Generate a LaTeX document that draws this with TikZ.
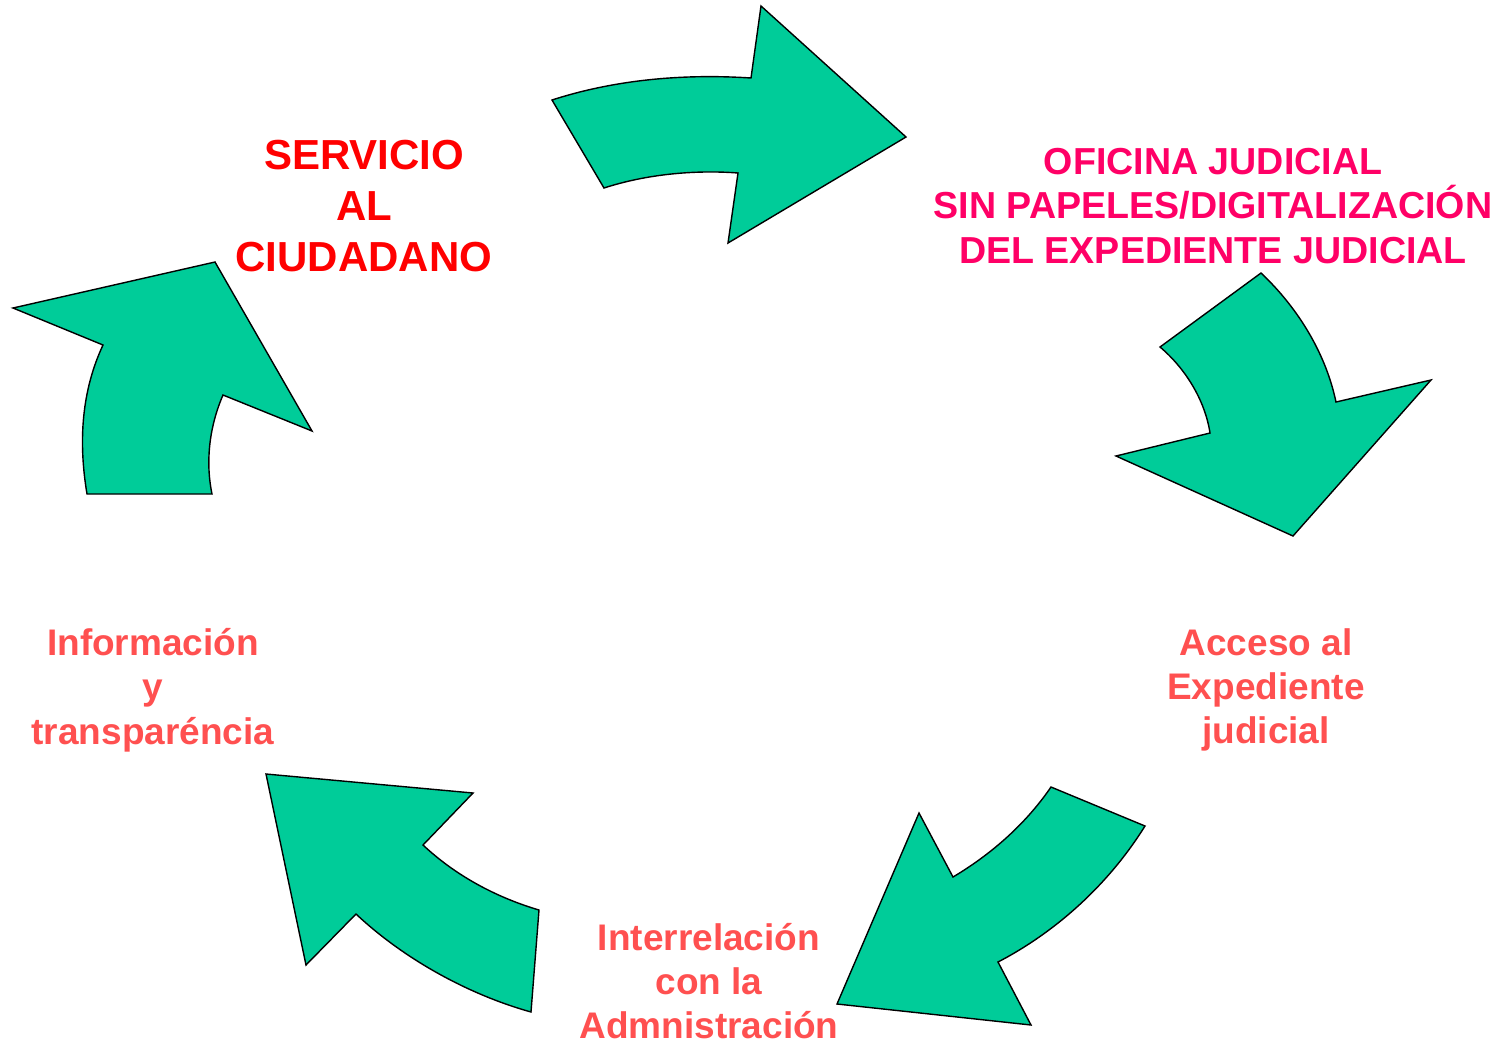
\documentclass[tikz,border=0pt]{standalone}
\usepackage{fontspec}
\setmainfont{Liberation Sans}
\definecolor{cyclegreen}{HTML}{00CC99}
\definecolor{titlered}{HTML}{FF0000}
\definecolor{titlepink}{HTML}{FF0066}
\definecolor{steprose}{HTML}{FF5050}

\begin{document}
\begin{tikzpicture}[x=0.5pt,y=-0.5pt,
	bigarrow/.style={draw=black, fill=cyclegreen, line width=0.7pt},
	bigtext/.style={align=center, inner sep=0pt, font=\bfseries\fontsize{21}{25.5}\selectfont},
	midtext/.style={align=center, inner sep=0pt, font=\bfseries\fontsize{18.5}{22.2}\selectfont}]
	\useasboundingbox (0,0) rectangle (1499,1045);
	% the five curved arrows of the cycle
	\draw[bigarrow] (552,100) .. controls (620,78) and (690,74) .. (751,78) -- (761,6) -- (906,137) -- (728,243) -- (738,173) .. controls (700,170) and (650,173) .. (604,188) -- cycle;
	\draw[bigarrow] (1261,273) .. controls (1295,305) and (1325,350) .. (1336,402) -- (1431,380) -- (1293,536) -- (1116,456) -- (1210,433) .. controls (1205,400) and (1185,368) .. (1160,347) -- cycle;
	\draw[bigarrow] (1145,826) .. controls (1105,890) and (1050,935) .. (998,962) -- (1031,1025) -- (837,1004) -- (919,813) -- (953,877) .. controls (990,855) and (1025,825) .. (1051,787) -- cycle;
	\draw[bigarrow] (266,774) -- (473,793) -- (423,845) .. controls (455,875) and (495,897) .. (539,910) -- (531,1012) .. controls (470,995) and (405,960) .. (356,914) -- (306,965) -- cycle;
	\draw[bigarrow] (87,494) .. controls (78,440) and (82,390) .. (103,345) -- (13,308) -- (215,262) -- (312,431) -- (223,395) .. controls (210,425) and (205,460) .. (212,494) -- cycle;
	% labels
	\node[bigtext, text=titlered] (servicio) at (364,206) {SERVICIO\\AL\\CIUDADANO};
	\node[midtext, text=titlepink, font=\bfseries\fontsize{18.8}{22.2}\selectfont] (oficina) at (1213,206) {OFICINA JUDICIAL\\SIN PAPELES/DIGITALIZACIÓN\\DEL EXPEDIENTE JUDICIAL};
	\node[midtext, text=steprose] (acceso) at (1266,690) {Acceso al\\Expediente\\judicial};
	\node[midtext, text=steprose] (interrel) at (709,981) {Interrelación\\con la\\Admnistración};
	\node[midtext, text=steprose] (informa) at (153,690) {Información\\y\\transparéncia};
\end{tikzpicture}
\end{document}
